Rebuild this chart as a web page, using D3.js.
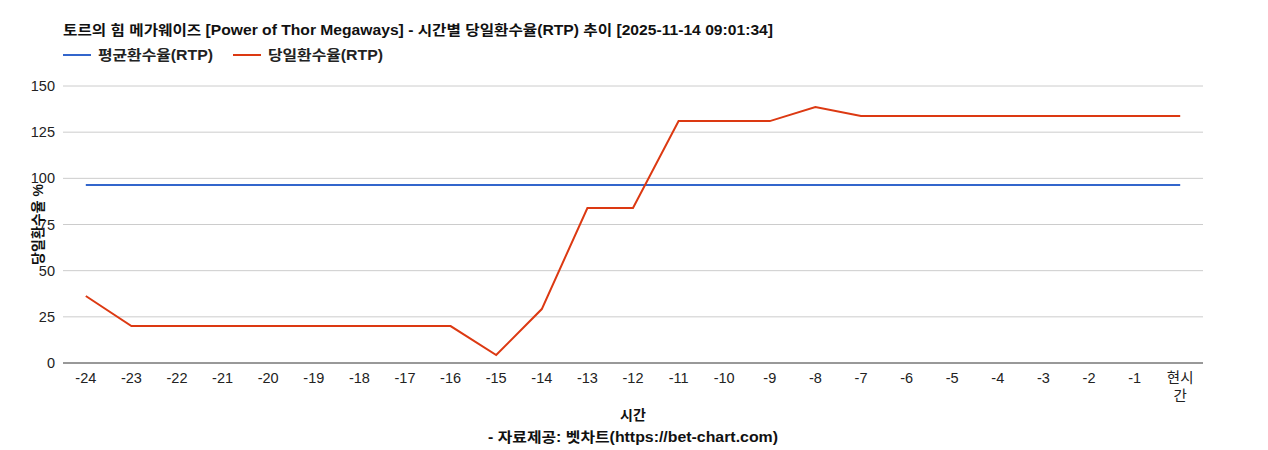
<!DOCTYPE html>
<html><head><meta charset="utf-8">
<script src="https://cdn.jsdelivr.net/npm/d3@7"></script>
<style>body{margin:0;background:#fff;font-family:Arial,"Liberation Sans","Noto Sans CJK KR",sans-serif}</style>
</head><body><div id="chart"></div>
<script>
var categories = ["-24","-23","-22","-21","-20","-19","-18","-17","-16","-15","-14","-13","-12","-11","-10","-9","-8","-7","-6","-5","-4","-3","-2","-1","현시간"];
var avgRtp = [96.4,96.4,96.4,96.4,96.4,96.4,96.4,96.4,96.4,96.4,96.4,96.4,96.4,96.4,96.4,96.4,96.4,96.4,96.4,96.4,96.4,96.4,96.4,96.4,96.4];
var dayRtp = [36.3,20,20,20,20,20,20,20,20,4.3,29.2,83.9,84,131,131,131,138.6,133.7,133.7,133.7,133.7,133.7,133.7,133.7,133.7];
var yTicks = [0,25,50,75,100,125,150];

var W = 1268, H = 450;
var m = {top:86, left:63, right:65, bottom:87};
var svg = d3.select("#chart").append("svg").attr("width",W).attr("height",H);
var font = "Arial,'Liberation Sans','Noto Sans CJK KR',sans-serif";

var x = d3.scaleBand().domain(categories).range([m.left, W-m.right]);
var y = d3.scaleLinear().domain([0,150]).range([H-m.bottom, m.top]);

svg.append("g").selectAll("line").data(yTicks).enter().append("line")
  .attr("x1",m.left).attr("x2",W-m.right).attr("y1",d=>y(d)).attr("y2",d=>y(d))
  .attr("stroke",d=>d===0?"#333":"#ccc").attr("stroke-width",1);
svg.append("g").selectAll("text").data(yTicks).enter().append("text")
  .attr("x",m.left-8).attr("y",d=>y(d)+5).attr("text-anchor","end")
  .attr("font-size",14.5).attr("fill","#222").attr("font-family",font).text(d=>d);

var xl = svg.append("g").selectAll("text").data(categories).enter().append("text")
  .attr("x",d=>x(d)+x.bandwidth()/2).attr("y",y(0)+20).attr("text-anchor","middle")
  .attr("font-size",14.5).attr("fill","#222").attr("font-family",font);
xl.each(function(d){
  var t = d3.select(this);
  if(d==="현시간"){ t.append("tspan").attr("x",x(d)+x.bandwidth()/2).text("현시");
    t.append("tspan").attr("x",x(d)+x.bandwidth()/2).attr("dy",18).text("간"); }
  else t.text(d);
});

function line(vals){
  return d3.line().x((v,i)=>x(categories[i])+x.bandwidth()/2).y(v=>y(v))(vals);
}
svg.append("path").attr("d",line(avgRtp)).attr("fill","none").attr("stroke","#3366cc").attr("stroke-width",2);
svg.append("path").attr("d",line(dayRtp)).attr("fill","none").attr("stroke","#dc3912").attr("stroke-width",2);

svg.append("text").attr("x",63).attr("y",35).attr("font-size",14).attr("font-weight","bold")
  .attr("font-family",font).attr("fill","#111").attr("textLength",710).attr("lengthAdjust","spacingAndGlyphs")
  .text("토르의 힘 메가웨이즈 [Power of Thor Megaways] - 시간별 당일환수율(RTP) 추이 [2025-11-14 09:01:34]");

var legend = [{n:"평균환수율(RTP)",c:"#3366cc",x:63},{n:"당일환수율(RTP)",c:"#dc3912",x:233}];
legend.forEach(function(l){
  svg.append("line").attr("x1",l.x).attr("x2",l.x+28).attr("y1",55).attr("y2",55).attr("stroke",l.c).attr("stroke-width",2);
  svg.append("text").attr("x",l.x+35).attr("y",60).attr("font-size",14).attr("font-weight","bold")
    .attr("font-family",font).attr("fill","#222").attr("textLength",115).attr("lengthAdjust","spacingAndGlyphs").text(l.n);
});

svg.append("text").attr("transform","translate(43,"+((m.top+H-m.bottom)/2)+") rotate(-90)")
  .attr("text-anchor","middle").attr("font-size",14).attr("font-weight","bold")
  .attr("font-family",font).attr("fill","#111").text("당일환수율 %");
svg.append("text").attr("x",633).attr("y",420).attr("text-anchor","middle").attr("font-size",14)
  .attr("font-weight","bold").attr("font-family",font).attr("fill","#111").text("시간");
svg.append("text").attr("x",633).attr("y",442).attr("text-anchor","middle").attr("font-size",14)
  .attr("font-weight","bold").attr("font-family",font).attr("fill","#111")
  .attr("textLength",290).attr("lengthAdjust","spacingAndGlyphs").text("- 자료제공: 벳차트(https://bet-chart.com)");
</script></body></html>
